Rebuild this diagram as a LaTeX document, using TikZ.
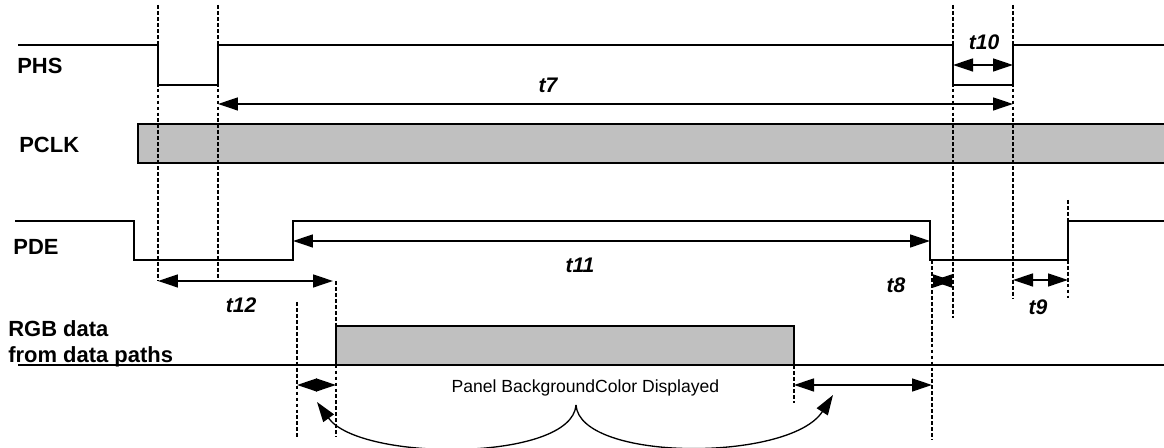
\documentclass[tikz,border=0pt]{standalone}
\usepackage{fontspec}
\setmainfont{Liberation Sans}
\usetikzlibrary{arrows.meta,positioning}
\definecolor{busgray}{RGB}{192,192,192}

\begin{document}
\begin{tikzpicture}[x=0.02cm, y=-0.02cm,
      sig/.style={line width=0.75pt},
      guide/.style={line width=0.6pt, dash pattern=on 2.2pt off 1.2pt},
      dim/.style={{Triangle[length=0.4cm,width=0.26cm]}-{Triangle[length=0.4cm,width=0.26cm]}, line width=0.75pt},
      pointer/.style={-{Triangle[length=0.4cm,width=0.26cm]}, line width=0.75pt},
      lbl/.style={inner sep=0, font=\fontsize{12.5}{14.7}\selectfont\bfseries},
      tlbl/.style={inner sep=0, font=\fontsize{12}{14}\selectfont\bfseries\itshape},
      note/.style={inner sep=0, font=\fontsize{10}{12}\selectfont}]
    \useasboundingbox (0,0) rectangle (1164,448);
    \node[lbl, anchor=base west] (phs) at (17,74) {PHS};
    \node[lbl, anchor=base west] (pclk) at (19,153) {PCLK};
    \node[lbl, anchor=base west] (pde) at (13,255) {PDE};
    \node[lbl, anchor=west, align=left] (rgb) at (8,344) {RGB data\\from data paths};
    \draw[sig] (18,45) -- (158,45) -- (158,85) -- (218,85) -- (218,45) -- (953,45)
      -- (953,85) -- (1013,85) -- (1013,45) -- (1164,45);
    \draw[sig, fill=busgray] (1164,124) -- (138,124) -- (138,163) -- (1164,163);
    \draw[sig] (15,221) -- (134,221) -- (134,260) -- (293,260) -- (293,221) -- (930,221)
      -- (930,260) -- (1068,260) -- (1068,221) -- (1164,221);
    \draw[sig, fill=busgray] (336,365) -- (336,326) -- (794,326) -- (794,365);
    \draw[sig] (18,365) -- (1164,365);
    \draw[guide] (158,5) -- (158,281);
    \draw[guide] (218,5) -- (218,281);
    \draw[guide] (953,5) -- (953,318);
    \draw[guide] (1013,5) -- (1013,298);
    \draw[guide] (1068,200) -- (1068,298);
    \draw[guide] (932,260) -- (932,440);
    \draw[guide] (336,281) -- (336,437);
    \draw[guide] (297,302) -- (297,437);
    \draw[guide] (794,365) -- (794,403);
    \draw[dim] (953,65) -- (1013,65);
    \draw[dim] (218,104) -- (1013,104);
    \draw[dim] (293,241) -- (930,241);
    \draw[dim] (158,281) -- (333,281);
    \draw[dim] (932,281) -- (953,281);
    \draw[dim] (1013,280) -- (1068,280);
    \draw[dim] (297,385) -- (336,385);
    \draw[dim] (794,385) -- (932,385);
    \node[tlbl, anchor=base] (t10) at (984,50) {t10};
    \node[tlbl, anchor=base] (t7) at (548,93) {t7};
    \node[tlbl, anchor=base] (t11) at (580,273) {t11};
    \node[tlbl, anchor=base] (t12) at (241,313) {t12};
    \node[tlbl, anchor=base] (t8) at (896,293) {t8};
    \node[tlbl, anchor=base] (t9) at (1038,315) {t9};
    \node[note, anchor=base] (bg) at (585.5,393) {Panel BackgroundColor Displayed};
    \coordinate (cusp) at (576,405);
    \draw[pointer] (cusp) .. controls (572,462) and (360,462) .. (317,402);
    \draw[pointer] (cusp) .. controls (580,462) and (790,462) .. (833,395);
  \end{tikzpicture}
\end{document}
